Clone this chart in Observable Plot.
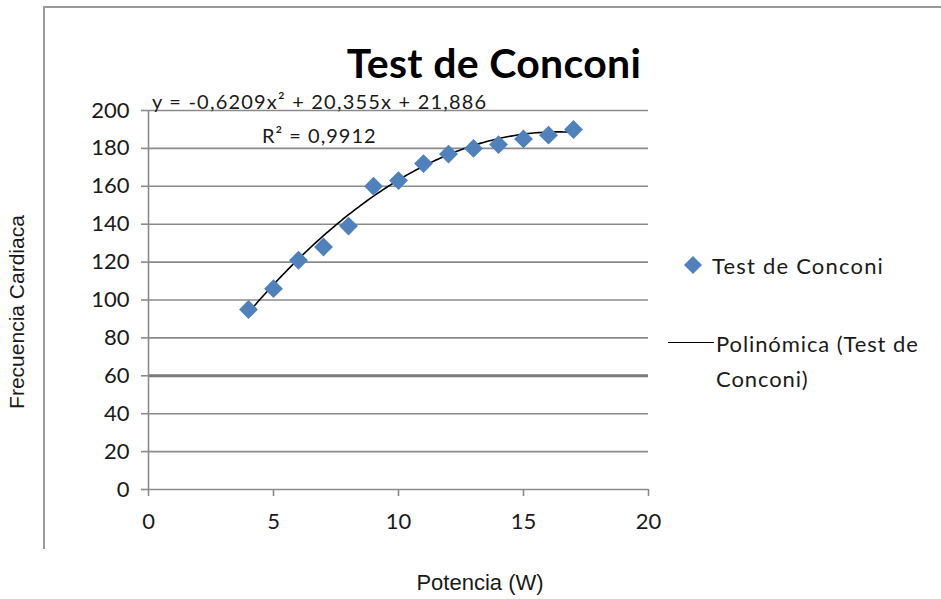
<!DOCTYPE html>
<html>
<head>
<meta charset="utf-8">
<script src="https://cdn.jsdelivr.net/npm/d3@7"></script>
<script src="https://cdn.jsdelivr.net/npm/@observablehq/plot@0.6"></script>
<style>
  html, body { margin: 0; padding: 0; background: #fff; }
  #wrap { position: relative; width: 941px; height: 599px; overflow: hidden; font-family: Lato, "Open Sans", sans-serif; color: #1a1a1a; }
  #wrap svg { position: absolute; left: 0; top: 0; }
  .abs { position: absolute; white-space: nowrap; }
  #frameTop { position: absolute; left: 44px; top: 6px; width: 897px; height: 0; border-top: 2px solid #9a9a9a; }
  #frameLeft { position: absolute; left: 43px; top: 6px; width: 0; height: 543px; border-left: 2px solid #9a9a9a; }
</style>
</head>
<body>
<div id="wrap">
  <div id="chart"></div>
  <div id="frameTop"></div>
  <div id="frameLeft"></div>
  <div class="abs" id="title" style="left:494px; top:62px; transform:translate(-50%,-50%); font-weight:700; font-size:41px; letter-spacing:0.3px; color:#000;">Test de Conconi</div>
  <div class="abs" id="eq" style="left:152px; top:101px; transform:translateY(-50%); font-size:20px; letter-spacing:1.2px;">y = -0,6209x² + 20,355x + 21,886</div>
  <div class="abs" id="r2" style="left:262px; top:135px; transform:translateY(-50%); font-size:20px; letter-spacing:1px;">R² = 0,9912</div>
  <div class="abs" id="ytitle" style="left:17px; top:312px; transform:translate(-50%,-50%) rotate(-90deg); font-family:'Liberation Sans', Arial, sans-serif; font-size:21px;">Frecuencia Cardiaca</div>
  <div class="abs" id="xtitle" style="left:480px; top:583px; transform:translate(-50%,-50%); font-family:'Liberation Sans', Arial, sans-serif; font-size:22px;">Potencia (W)</div>
  <svg class="abs" style="left:683px; top:255px;" width="20" height="20"><path d="M10 1 L19 10 L10 19 L1 10 Z" fill="#4f81bd"/></svg>
  <div class="abs" style="left:712px; top:265px; transform:translateY(-50%); font-size:22px; letter-spacing:1.2px;">Test de Conconi</div>
  <div class="abs" style="left:668px; top:342px; width:46px; height:0; border-top:1.5px solid #000;"></div>
  <div class="abs" style="left:716px; top:343px; transform:translateY(-50%); font-size:22px; letter-spacing:0.9px;">Polinómica (Test de</div>
  <div class="abs" style="left:716px; top:378px; transform:translateY(-50%); font-size:22px; letter-spacing:0.9px;">Conconi)</div>
</div>
<script>
// Data
const potencia = [4, 5, 6, 7, 8, 9, 10, 11, 12, 13, 14, 15, 16, 17];
const frecuencia = [95, 106, 121, 128, 139, 160, 163, 172, 177, 180, 182, 185, 187, 190];
// Polynomial trendline coefficients shown on the chart (a x^2 + b x + c)
const trendCoef = [-0.6209, 20.355, 21.886];
const xTicks = [0, 5, 10, 15, 20];
const yTicks = [0, 20, 40, 60, 80, 100, 120, 140, 160, 180, 200];

const points = potencia.map((x, i) => ({x, y: frecuencia[i]}));
const xMin = d3.min(potencia), xMax = d3.max(potencia);
const trend = d3.range(0, 131).map(i => {
  const x = xMin + (xMax - xMin) * i / 130;
  return {x, y: trendCoef[0] * x * x + trendCoef[1] * x + trendCoef[2]};
});

const chart = Plot.plot({
  width: 941,
  height: 599,
  marginLeft: 148,
  marginRight: 293,
  marginTop: 110,
  marginBottom: 110,
  style: {fontFamily: "Lato, 'Open Sans', sans-serif", fontSize: "22px", color: "#1a1a1a", background: "transparent"},
  x: {domain: [0, 20], ticks: xTicks, label: null},
  y: {domain: [0, 200], ticks: yTicks, label: null},
  marks: [
    Plot.ruleY(yTicks, {stroke: "#8a8a8a", strokeWidth: 1.6}),
    Plot.ruleY([60], {stroke: "#7a7a7a", strokeWidth: 3}),
    Plot.ruleX([0], {stroke: "#8a8a8a", strokeWidth: 1.6}),
    Plot.axisY({ticks: yTicks, tickSize: 7, tickPadding: 12, stroke: "#8a8a8a", strokeWidth: 1.6, strokeOpacity: 1, label: null}),
    Plot.axisX({ticks: xTicks, tickSize: 7, tickPadding: 17, stroke: "#8a8a8a", strokeWidth: 1.6, strokeOpacity: 1, label: null}),
    Plot.line(trend, {x: "x", y: "y", stroke: "#000", strokeWidth: 1.6, curve: "linear"}),
    Plot.dot(points, {x: "x", y: "y", symbol: "diamond2", r: 8.5, fill: "#4f81bd", stroke: "none"})
  ]
});
document.getElementById("chart").appendChild(chart);
</script>
</body>
</html>
